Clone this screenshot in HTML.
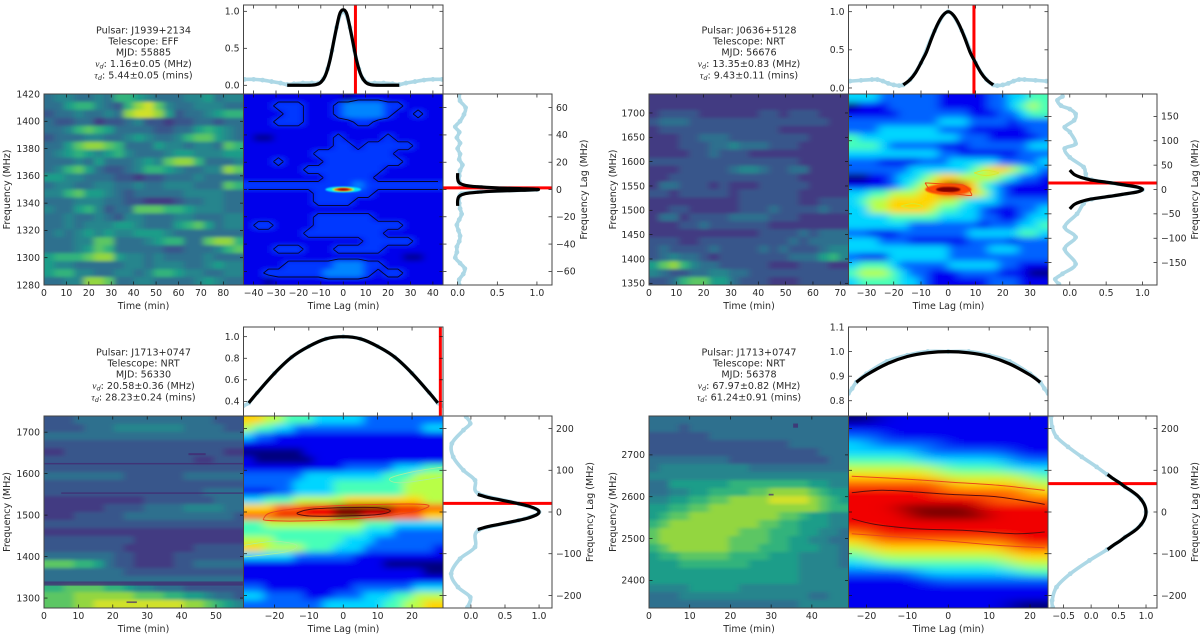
<!DOCTYPE html>
<html>
<head>
<meta charset="utf-8">
<title>Pulsar dynamic spectra and autocovariance</title>
<style>
html,body{margin:0;padding:0;background:#fff;}
svg{display:block;}
text{font-family:"DejaVu Sans","Liberation Sans",sans-serif;font-size:9.3px;fill:#2a2a2a;}
.info{text-anchor:middle;font-size:9.6px;}
.title{text-anchor:middle;font-size:9.5px;}
</style>
</head>
<body>
<svg id="chart" width="1200" height="637" viewBox="0 0 1200 637" xmlns="http://www.w3.org/2000/svg">
  <g id="panel-a">
    <text class="info" x="143.5" y="33.5">Pulsar: J1939+2134</text>
    <text class="info" x="143.5" y="44.5">Telescope: EFF</text>
    <text class="info" x="143.5" y="55.5">MJD: 55885</text>
    <text class="info" x="143.5" y="67"><tspan font-style="italic" font-family="Liberation Serif">ν</tspan><tspan font-size="6.5" dy="1.5" font-style="italic">d</tspan><tspan dy="-1.5">: 1.16±0.05 (MHz)</tspan></text>
    <text class="info" x="143.5" y="78.5"><tspan font-style="italic" font-family="Liberation Serif">τ</tspan><tspan font-size="6.5" dy="1.5" font-style="italic">d</tspan><tspan dy="-1.5">: 5.44±0.05 (mins)</tspan></text>
    <text class="title" x="143.5" y="309">Time (min)</text>
    <text class="title" x="343.5" y="309">Time Lag (min)</text>
    <text class="title" transform="translate(10,189.5) rotate(-90)">Frequency (MHz)</text>
    <text class="title" transform="translate(587,189.5) rotate(-90)">Frequency Lag (MHz)</text>
  </g>
  <g id="panel-b">
    <text class="info" x="749" y="33.5">Pulsar: J0636+5128</text>
    <text class="info" x="749" y="44.5">Telescope: NRT</text>
    <text class="info" x="749" y="55.5">MJD: 56676</text>
    <text class="info" x="749" y="67"><tspan font-style="italic" font-family="Liberation Serif">ν</tspan><tspan font-size="6.5" dy="1.5" font-style="italic">d</tspan><tspan dy="-1.5">: 13.35±0.83 (MHz)</tspan></text>
    <text class="info" x="749" y="78.5"><tspan font-style="italic" font-family="Liberation Serif">τ</tspan><tspan font-size="6.5" dy="1.5" font-style="italic">d</tspan><tspan dy="-1.5">: 9.43±0.11 (mins)</tspan></text>
    <text class="title" x="749" y="309">Time (min)</text>
    <text class="title" x="948.5" y="309">Time Lag (min)</text>
    <text class="title" transform="translate(616,189.5) rotate(-90)">Frequency (MHz)</text>
    <text class="title" transform="translate(1198,189.5) rotate(-90)">Frequency Lag (MHz)</text>
  </g>
  <g id="panel-c">
    <text class="info" x="143.5" y="355.5">Pulsar: J1713+0747</text>
    <text class="info" x="143.5" y="366.5">Telescope: NRT</text>
    <text class="info" x="143.5" y="377.5">MJD: 56330</text>
    <text class="info" x="143.5" y="389"><tspan font-style="italic" font-family="Liberation Serif">ν</tspan><tspan font-size="6.5" dy="1.5" font-style="italic">d</tspan><tspan dy="-1.5">: 20.58±0.36 (MHz)</tspan></text>
    <text class="info" x="143.5" y="400.5"><tspan font-style="italic" font-family="Liberation Serif">τ</tspan><tspan font-size="6.5" dy="1.5" font-style="italic">d</tspan><tspan dy="-1.5">: 28.23±0.24 (mins)</tspan></text>
    <text class="title" x="143.5" y="632">Time (min)</text>
    <text class="title" x="343.5" y="632">Time Lag (min)</text>
    <text class="title" transform="translate(10,512) rotate(-90)">Frequency (MHz)</text>
    <text class="title" transform="translate(593,512) rotate(-90)">Frequency Lag (MHz)</text>
  </g>
  <g id="panel-d">
    <text class="info" x="749" y="355.5">Pulsar: J1713+0747</text>
    <text class="info" x="749" y="366.5">Telescope: NRT</text>
    <text class="info" x="749" y="377.5">MJD: 56378</text>
    <text class="info" x="749" y="389"><tspan font-style="italic" font-family="Liberation Serif">ν</tspan><tspan font-size="6.5" dy="1.5" font-style="italic">d</tspan><tspan dy="-1.5">: 67.97±0.82 (MHz)</tspan></text>
    <text class="info" x="749" y="400.5"><tspan font-style="italic" font-family="Liberation Serif">τ</tspan><tspan font-size="6.5" dy="1.5" font-style="italic">d</tspan><tspan dy="-1.5">: 61.24±0.91 (mins)</tspan></text>
    <text class="title" x="749" y="632">Time (min)</text>
    <text class="title" x="948.5" y="632">Time Lag (min)</text>
    <text class="title" transform="translate(616,512) rotate(-90)">Frequency (MHz)</text>
    <text class="title" transform="translate(1198,512) rotate(-90)">Frequency Lag (MHz)</text>
  </g>
</svg>
<script>
/* ---------- Panel A: J1939+2134 ---------- */
const dynA = ["34433436654333445344","33566432689743344433","23343343899852334566","32233122342212233233","33467653333223356543","23334433454334677543","33578876333544344376","34565456433345544455","33343533345478863334","34675322346654334487","55443332212233343333","34433443343344433376","44675543233333444433","33344433221112334433","43356423377766544433","33433432443334433344","33434445543335675344","34345454455543333333","33344773334566337886","33345763333322333467","56667885443433334333","54433333443444334544","56644334434665443344","33448873344333345433"];
const acfA = ["11111111110111111111","11122211123333221111","11112211123333211211","11122211111221111111","11111111111111111111","10011111121111211111","11111111122122222111","11111112222222211111","11121111222222221111","11111122222222111111","11111111222221111111","22222222222322222222","11111112222221111111","11111112222111111111","11111111111111111111","11111112222221111111","12211112222222221111","11111122222222111111","11111111111122222111","11122211122222111111","11111111111111110011","11112222233322111111","11222222333321221111","11011111111111111111"];
const timeLimA = [0, 89];
const freqLimA = [1280, 1420];
const lagLimA = [-44.5, 44.5];
const lagFreqLimA = [-70, 70];
const topLimA = [-0.118, 1.085];
const sideLimA = [-0.185, 1.19];
const timeTicksA = [0,10,20,30,40,50,60,70,80];
const freqTicksA = [1280,1300,1320,1340,1360,1380,1400,1420];
const lagTicksA = [-40,-30,-20,-10,0,10,20,30,40];
const lagFreqTicksA = [-60,-40,-20,0,20,40,60];
const topTicksA = [0,0.5,1];
const sideTicksA = [0,0.5,1];
const topLagA = [-44,-40,-36,-32,-28,-25,-22,-18,-14,-11,-9,-7,-5,-3,-1,0,1,3,5,7,9,11,14,18,22,25,28,32,36,40,44];
const topValA = [.08,.08,.07,.05,.03,.01,.02,.03,.03,.03,.08,.22,.47,.78,.98,1,.98,.78,.47,.22,.08,.03,.03,.03,.02,.01,.03,.05,.07,.08,.08];
const topFitLagA = [-25,-20,-15,-12,-10,-8,-6,-4,-2,-1,0,1,2,4,6,8,10,12,15,20,25];
const topFitA = [0,0,0,.01,.04,.13,.33,.63,.92,1,1.02,1,.92,.63,.33,.13,.04,.01,0,0,0];
const sideFreqA = [70,65,60,55,50,46,42,38,34,30,26,22,18,14,10,6,3,1.5,0,-1.5,-3,-6,-10,-14,-18,-22,-26,-30,-34,-38,-42,-46,-50,-54,-58,-62,-66,-70];
const sideValA = [.02,.03,.1,.08,.03,-.03,.02,-.01,.03,0,.03,.02,.06,.03,.02,.02,.05,.3,1,.3,.05,.02,.02,.03,.05,.02,-.01,.01,.03,.02,-.01,-.01,-.03,.03,.09,.07,.02,.02];
const sideFitFreqA = [12,8,5,3,2,1.16,.6,0,-.6,-1.16,-2,-3,-5,-8,-12];
const sideFitA = [0,0,.02,.1,.25,.5,.8,1.02,.8,.5,.25,.1,.02,0,0];
const markerLagA = 5.44;
const markerFreqA = 1.16;
const ringLagA = [8,5,4,2.6];
const ringFreqA = [2.2,1.5,1.1,.7];
const ringLevelA = [.35,.55,.8,.97];

/* ---------- Panel B: J0636+5128 ---------- */
const dynB = ["11111111111111111111","11111111111111111111","12222111111221222111","23332222222222222211","12222222222221111111","11122333222222221111","11122233433322211111","11112232221111111111","22222222222222211111","11122222344322331111","11222222222222211111","13322212111222221111","22122222122222211111","11111111122222211222","11221111122232222322","13312222333322211111","11122322222211111111","11111111111222232333","22211222222222323333","23222232222323222344","23433212222222333564","57864332222211122211","43223344332222222222","22367755322211122222"];
const acfB = ["33322222211111223344","01112222211111223454","11111222222211122344","22222222233322221222","22233333322211111122","43333333333222111112","44432222211122222233","33333333322111111222","22211112223333322223","22222233333345665432","00112334566555543221","11112345689864321111","33445556677765321111","34556666655433322222","33556666544332111223","33334444433332211233","33333322222221222334","22111222222233333443","33322211111122221222","33333333332222333222","21113333332222222222","34443222223333322111","45554322111222211100","34444332111111222111"];
const timeLimB = [0, 73];
const freqLimB = [1346.5, 1739];
const lagLimB = [-36.6, 36.6];
const lagFreqLimB = [-196, 196];
const topLimB = [-0.079, 1.088];
const sideLimB = [-0.3, 1.2];
const timeTicksB = [0,10,20,30,40,50,60,70];
const freqTicksB = [1350,1400,1450,1500,1550,1600,1650,1700];
const lagTicksB = [-30,-20,-10,0,10,20,30];
const lagFreqTicksB = [-150,-100,-50,0,50,100,150];
const topTicksB = [0,0.5,1];
const sideTicksB = [0,0.5,1];
const topLagB = [-36,-32,-28,-26,-24,-22,-20,-18,-16.5,-14,-10,-5,0,5,10,14,16.5,18,20,22,24,26,28,32,36];
const topValB = [.09,.1,.11,.11,.09,.06,.04,.03,.04,.11,.33,.75,1,.75,.33,.11,.04,.03,.04,.06,.09,.11,.11,.1,.09];
const topFitLagB = [-16.5,-14,-12,-10,-9.43,-8,-6,-4,-2,0,2,4,6,8,9.43,10,12,14,16.5];
const topFitB = [.04,.11,.2,.33,.37,.47,.66,.83,.95,1,.95,.83,.66,.47,.37,.33,.2,.11,.04];
const sideFreqB = [191,183,172,165,155,142,128,118,94,84,66,46,32,20,0,-20,-29,-50,-77,-98,-122,-153,-173,-184,-194];
const sideValB = [-.1,-.17,-.12,0,.08,.06,-.07,0,.08,-.07,0,.19,.22,.3,1,.3,.19,.1,-.07,.08,-.07,.08,-.1,-.2,-.15];
const sideFitFreqB = [40,35,30,25,20,15,13,10,5,0,-5,-10,-13,-15,-20,-25,-30,-35,-40];
const sideFitB = [0,.03,.07,.15,.28,.5,.6,.72,.93,1,.93,.72,.6,.5,.28,.15,.07,.03,0];
const markerLagB = 9.43;
const markerFreqB = 13.35;
const ringLagB = [8.5,4.5];
const ringFreqB = [11,5.5];
const ringLevelB = [.8,1];
const contourOuterLagB = [-8.5,-2.4,5.5,8.5,7.3,0,-6,-8.5];
const contourOuterFreqB = [13.6,11.6,8.9,-8.9,-12.3,-6.8,-3.4,13.6];
const contourLowerLagB = [-17.4,-15,-13.4,-11,-9.4,-11,-13.4,-15,-17.4];
const contourLowerFreqB = [-34,-30.5,-29,-30.5,-34,-37.5,-39,-37.5,-34];
const contourUpperLagB = [9.5,12,14,16,18.5,16,14,12,9.5];
const contourUpperFreqB = [34,38,39.5,38,34,30,28.5,30,34];

/* ---------- Panel C: J1713+0747 MJD 56330 ---------- */
const dynC = ["22233333333333333222","22223334444444333322","33333333333333333333","22222222222222222222","11222222222222222211","22222222222222211222","22222222222222222222","33333333222222333333","22222222222222222222","22222222222222223333","11111111112222222333","11111122223333444433","11122222333333333332","22222222222222222222","11111111111111111111","22222222211111111111","22222222111111122222","33333332211112222222","77766532211112233333","33333333222222222222","33333333333333333333","66777766544333222222","77788888877766554332","77788999999999887654"];
const acfC = ["66554443333322222222","54433222222222222233","32211111111111111111","11111111111111111111","00000011111111111111","10000001111111111111","11111111112222233344","22222233333333444555","22222333344444445555","11122333344444445555","33444555556666666655","66677788899999988877","77788888899988877766","44555555555544433333","44444444444433322222","55544444443332222222","66555544433322222221","33333222222111111111","11111111111111000000","11111111111111111100","11111111111111111111","22111111111222222333","33222211122233344555","22222222333333445566"];
const timeLimC = [0, 58];
const freqLimC = [1276, 1739];
const lagLimC = [-29, 29];
const lagFreqLimC = [-230, 230];
const topLimC = [0.264, 1.09];
const sideLimC = [-0.41, 1.19];
const timeTicksC = [0,10,20,30,40,50];
const freqTicksC = [1300,1400,1500,1600,1700];
const lagTicksC = [-20,-10,0,10,20];
const lagFreqTicksC = [-200,-100,0,100,200];
const topTicksC = [0.4,0.6,0.8,1];
const sideTicksC = [0,0.5,1];
const topLagC = [-29,-27.5,-25,-20,-15,-10,-5,0,5,10,15,20,25,27.5,29];
const topValC = [.36,.385,.48,.66,.81,.91,.98,1,.98,.91,.81,.66,.48,.385,.36];
const topFitLagC = [-27.5,-25,-20,-15,-10,-5,0,5,10,15,20,25,27.5];
const topFitC = [.385,.48,.66,.81,.91,.98,1,.98,.91,.81,.66,.48,.385];
const sideFreqC = [228,212,196,164,132,100,76,44,20,0,-20,-44,-84,-112,-148,-180,-204,-228];
const sideValC = [-.07,-.01,-.11,-.28,-.26,-.11,.06,.11,.7,1,.7,.11,.06,-.16,-.29,-.19,-.01,-.05];
const sideFitFreqC = [42,35,30,25,20,15,10,5,0,-5,-10,-15,-20,-25,-30,-35,-42];
const sideFitC = [.1,.25,.4,.55,.7,.83,.92,.98,1,.98,.92,.83,.7,.55,.4,.25,.1];
const markerLagC = 28.23;
const markerFreqC = 20.58;
const contourOuterLagC = [-23.2,-21.3,-13.5,0,23.2,22.2,13.5,0,-13.5,-22.2,-23.2];
const contourOuterFreqC = [-16,-2.4,8,16,18.4,4,-8,-17.6,-21.6,-20,-16];
const contourInnerLagC = [-13.5,-9.7,0,9.7,13.7,9.7,0,-9.7,-13,-13.5];
const contourInnerFreqC = [-2.4,6.4,10.4,10.4,2.4,-6.4,-9.6,-9.6,-5.6,-2.4];
const contourRightLagC = [29,20,13.5,17,29];
const contourRightFreqC = [108,96,80,70,84];
const contourLeftLagC = [-29,-20,-13.5,-17,-29];
const contourLeftFreqC = [-80,-70,-80,-96,-108];
const rfiFreqC = [1624,1553,1335,1647,1290];
const rfiStartC = [0,5,0,42,24];
const rfiEndC = [58,58,58,47,27];
const rfiHeightC = [3.5,3.5,10,5,4];

/* ---------- Panel D: J1713+0747 MJD 56378 ---------- */
const dynD = ["33333333333333333333","33323333333333333333","22222233333333333333","22222222222222333333","22222222222222222333","33333333222222222233","34444444443333333333","44444444444444444444","33555555666666665544","33445566667788887655","44556677888899998765","55667788888888888766","56778888888887765544","67888888888776655544","78888888877766655443","78888888777766554433","67888888777666555443","56677777666655544443","55566666665555544443","55555555555555544444","55555555555555544444","44445555544444444444","33344444444444443344","33333333333333344444"];
const acfD = ["00011111111111111111","11111111111111111111","22211111111111111111","33222222211111111111","33333332222222221111","44444443333333332222","55555555544444443333","66666666655555555544","77777777776666666655","88888888877777777766","88888888888888777777","88888999999998888888","88888899999999888888","88888888888888888888","77888888888888888888","66777777777777778888","55666666666666667777","44555555555555556666","33344444444444445555","22222223333333333444","11111111222222222222","11111111111111111111","11111111111111111111","11111111111111110000"];
const timeLimD = [0, 49];
const freqLimD = [2334, 2793];
const lagLimD = [-24.4, 24.4];
const lagFreqLimD = [-230, 230];
const topLimD = [0.738, 1.1];
const sideLimD = [-0.785, 1.2];
const timeTicksD = [0,10,20,30,40];
const freqTicksD = [2400,2500,2600,2700];
const lagTicksD = [-20,-10,0,10,20];
const lagFreqTicksD = [-200,-100,0,100,200];
const topTicksD = [0.8,0.9,1,1.1];
const sideTicksD = [-0.5,0,0.5,1];
const topLagD = [-24.4,-23.5,-22.5,-20,-15,-10,-5,0,5,10,15,20,22.5,23.5,24.4];
const topValD = [.83,.85,.875,.91,.96,.985,1,1,1,.985,.96,.91,.875,.85,.83];
const topFitLagD = [-22.5,-20,-15,-10,-5,0,5,10,15,20,22.5];
const topFitD = [.875,.905,.95,.98,.995,1,.995,.98,.95,.905,.875];
const sideFreqD = [228,204,180,156,132,108,90,60,30,0,-30,-60,-90,-116,-148,-180,-212,-228];
const sideValD = [-.73,-.71,-.63,-.42,-.17,.1,.29,.62,.91,1,.91,.62,.29,-.03,-.38,-.63,-.71,-.7];
const sideFitFreqD = [90,80,70,60,50,40,30,20,10,0,-10,-20,-30,-40,-50,-60,-70,-80,-90];
const sideFitD = [.3,.4,.52,.62,.74,.84,.91,.96,.99,1,.99,.96,.91,.84,.74,.62,.52,.4,.3];
const markerLagD = 61.24;
const markerFreqD = 67.97;
const contourOrangeTopLagD = [-23.6,-12.2,0,12.2,23.6];
const contourOrangeTopFreqD = [85.6,80,72,64,52];
const contourDarkTopLagD = [-23.6,-16.3,-8.1,0,12.2,23.6];
const contourDarkTopFreqD = [46.4,52,48,42.4,36,18.4];
const contourDarkBottomLagD = [-23.6,-17.9,-8.1,4,16.3,23.6];
const contourDarkBottomFreqD = [-16,-29.6,-40,-44,-52,-48];
const contourOrangeBottomLagD = [-23.6,-12.2,0,12.2,23.6];
const contourOrangeBottomFreqD = [-52,-60,-69.6,-80,-85.6];
const rfiFreqD = [2770,2605];
const rfiStartD = [35.4,29.4];
const rfiEndD = [36.6,30.6];
const rfiHeightD = [10,4];

const NS = 'http://www.w3.org/2000/svg';
const svg = document.getElementById('chart');
let clipCount = 0;

const defs = document.createElementNS(NS, 'defs');
svg.appendChild(defs);
function addBlur(id, sd) {
  const f = document.createElementNS(NS, 'filter');
  f.setAttribute('id', id);
  f.setAttribute('filterUnits', 'userSpaceOnUse');
  f.setAttribute('x', '-50'); f.setAttribute('y', '-50');
  f.setAttribute('width', '1300'); f.setAttribute('height', '740');
  const b = document.createElementNS(NS, 'feGaussianBlur');
  b.setAttribute('stdDeviation', sd);
  f.appendChild(b);
  defs.appendChild(f);
}
addBlur('blur-dyn', '3.2 1.6');
addBlur('blur-acf-fine', '4 2.5');
addBlur('blur-acf', '5 3.2');
addBlur('blur-acf-wide', '13 3.8');
addBlur('blur-ring', '0.7');

function make(tag, parent, attrs) {
  const el = document.createElementNS(NS, tag);
  for (const k in attrs) el.setAttribute(k, attrs[k]);
  parent.appendChild(el);
  return el;
}
function linear(dom, r0, r1) {
  return v => r0 + (v - dom[0]) / (dom[1] - dom[0]) * (r1 - r0);
}
function mix(stops, t) {
  t = Math.max(0, Math.min(1, t));
  const p = t * (stops.length - 1), i = Math.min(stops.length - 2, Math.floor(p)), f = p - i;
  const a = stops[i], b = stops[i + 1];
  return 'rgb(' + [0, 1, 2].map(k => Math.round(a[k] + (b[k] - a[k]) * f)).join(',') + ')';
}
const viridisStops = [[68,1,84],[72,40,120],[62,73,137],[49,104,142],[38,130,142],[31,158,137],[53,183,121],[110,206,88],[181,222,43],[253,231,37]];
const jetStops = [[0,0,128],[0,0,255],[0,128,255],[0,255,255],[128,255,128],[255,255,0],[255,128,0],[255,0,0],[128,0,0]];
const viridis = v => mix(viridisStops, 0.08 + v / 9 * 0.85);
const jet = t => mix(jetStops, t);

function fmt(v, digits) {
  return (digits ? v.toFixed(digits) : String(v)).replace('-', '\u2212');
}
function clipFor(x0, y0, x1, y1) {
  const id = 'clip-' + (++clipCount);
  const c = make('clipPath', defs, {id: id});
  make('rect', c, {x: x0, y: y0, width: x1 - x0, height: y1 - y0});
  return id;
}
function heatmap(g, rows, colorFn, box, blurId) {
  const outer = make('g', g, {'clip-path': 'url(#' + clipFor(box.x0, box.y0, box.x1, box.y1) + ')'});
  
  
  const inner = make('g', outer, {filter: 'url(#' + blurId + ')'});
  const nr = rows.length, nc = rows[0].length;
  const cw = (box.x1 - box.x0) / nc, ch = (box.y1 - box.y0) / nr;
  for (let r = 0; r < nr; r++) {
    for (let c = 0; c < nc; c++) {
      const xa = box.x0 + c * cw - (c === 0 ? 40 : 0);
      const xb = box.x0 + (c + 1) * cw + (c === nc - 1 ? 40 : 0.5);
      const ya = box.y0 + r * ch - (r === 0 ? 30 : 0);
      const yb = box.y0 + (r + 1) * ch + (r === nr - 1 ? 30 : 0.5);
      const rect = make('rect', inner, {x: xa, y: ya, width: xb - xa, height: yb - ya, fill: colorFn(+rows[r][c])});
      
      
    }
  }
  return outer;
}
/* smooth path through the data points (Catmull-Rom) */
function curve(parent, xs, ys, sx, sy, color, width) {
  const p = xs.map((x, i) => [sx(x), sy(ys[i])]);
  let d = 'M' + p[0][0].toFixed(2) + ' ' + p[0][1].toFixed(2);
  for (let i = 0; i < p.length - 1; i++) {
    const a = p[Math.max(0, i - 1)], b = p[i], c = p[i + 1], e = p[Math.min(p.length - 1, i + 2)];
    const c1x = b[0] + (c[0] - a[0]) / 6, c1y = b[1] + (c[1] - a[1]) / 6;
    const c2x = c[0] - (e[0] - b[0]) / 6, c2y = c[1] - (e[1] - b[1]) / 6;
    d += 'C' + c1x.toFixed(2) + ' ' + c1y.toFixed(2) + ' ' + c2x.toFixed(2) + ' ' + c2y.toFixed(2) + ' ' + c[0].toFixed(2) + ' ' + c[1].toFixed(2);
  }
  return make('path', parent, {d: d, fill: 'none', stroke: color, 'stroke-width': width, 'stroke-linejoin': 'round'});
}
function dots(parent, xs, ys, sx, sy) {
  xs.forEach((x, i) => {
    const c = make('circle', parent, {cx: sx(x), cy: sy(ys[i]), r: 2.4, fill: '#add8e6'});
    
    
  });
}
function xTicks(g, vals, sx, y0, y1, label) {
  vals.forEach(v => {
    const a = make('line', g, {x1: sx(v), x2: sx(v), y1: y1, y2: y1 - 3.5, stroke: '#111', 'stroke-width': 0.7});
    
    
    const b = make('line', g, {x1: sx(v), x2: sx(v), y1: y0, y2: y0 + 3.5, stroke: '#111', 'stroke-width': 0.7});
    
    
    if (label) {
      const t = make('text', g, {x: sx(v), y: y1 + 11, 'text-anchor': 'middle'});
      t.textContent = fmt(v, label === 1 ? 1 : 0);
      
      
    }
  });
}
function yTicks(g, vals, sy, x0, x1, side, digits) {
  vals.forEach(v => {
    const a = make('line', g, {x1: x0, x2: x0 + 3.5, y1: sy(v), y2: sy(v), stroke: '#111', 'stroke-width': 0.7});
    
    
    const b = make('line', g, {x1: x1, x2: x1 - 3.5, y1: sy(v), y2: sy(v), stroke: '#111', 'stroke-width': 0.7});
    
    
    if (side === 'left') {
      const t = make('text', g, {x: x0 - 4, y: sy(v) + 3.3, 'text-anchor': 'end'});
      t.textContent = fmt(v, digits);
      
      
    }
    if (side === 'right') {
      const t = make('text', g, {x: x1 + 4, y: sy(v) + 3.3, 'text-anchor': 'start'});
      t.textContent = fmt(v, digits);
      
      
    }
  });
}
function frame(g, x0, y0, x1, y1) {
  const r = make('rect', g, {x: x0, y: y0, width: x1 - x0, height: y1 - y0, fill: 'none', stroke: '#444', 'stroke-width': 1});
  
  
}
/* marching squares across the ACF grid for the wiggly low-level contour */
function gridContour(g, rows, level, box, color) {
  const nr = rows.length, nc = rows[0].length;
  const cw = (box.x1 - box.x0) / nc, ch = (box.y1 - box.y0) / nr;
  const px = c => box.x0 + (c + 0.5) * cw, py = r => box.y0 + (r + 0.5) * ch;
  let d = '';
  for (let r = 0; r < nr - 1; r++) for (let c = 0; c < nc - 1; c++) {
    const a = +rows[r][c], b = +rows[r][c + 1], e = +rows[r + 1][c + 1], f = +rows[r + 1][c];
    const cross = [];
    if ((a < level) !== (b < level)) cross.push([px(c + (level - a) / (b - a)), py(r)]);
    if ((b < level) !== (e < level)) cross.push([px(c + 1), py(r + (level - b) / (e - b))]);
    if ((f < level) !== (e < level)) cross.push([px(c + (level - f) / (e - f)), py(r + 1)]);
    if ((a < level) !== (f < level)) cross.push([px(c), py(r + (level - a) / (f - a))]);
    for (let i = 0; i + 1 < cross.length; i += 2) {
      d += 'M' + cross[i][0].toFixed(1) + ' ' + cross[i][1].toFixed(1) + 'L' + cross[i + 1][0].toFixed(1) + ' ' + cross[i + 1][1].toFixed(1);
    }
  }
  const p = make('path', g, {d: d, fill: 'none', stroke: color, 'stroke-width': 0.9, 'clip-path': 'url(#' + clipFor(box.x0, box.y0, box.x1, box.y1) + ')'});
  
  
}

function drawPanel(cfg) {
  const g = document.getElementById(cfg.id);
  const dx = cfg.dx, yTop0 = cfg.yTop0, yTop1 = cfg.yTop1, yMain1 = cfg.yMain1;
  const dynBox = {x0: 44 + dx, x1: 243.5 + dx, y0: yTop1, y1: yMain1};
  const acfBox = {x0: 243.5 + dx, x1: 443 + dx, y0: yTop1, y1: yMain1};
  const sideX0 = 443 + dx, sideX1 = 552 + dx;

  const sTime = linear(cfg.timeLim, dynBox.x0, dynBox.x1);
  const sFreq = linear(cfg.freqLim, dynBox.y1, dynBox.y0);
  const sLag = linear(cfg.lagLim, acfBox.x0, acfBox.x1);
  const sLagFreq = linear(cfg.lagFreqLim, acfBox.y1, acfBox.y0);
  const sTop = linear(cfg.topLim, yTop1, yTop0);
  const sSide = linear(cfg.sideLim, sideX0, sideX1);

  /* dynamic spectrum */
  const dynG = heatmap(g, cfg.dyn, viridis, dynBox, 'blur-dyn');
  (cfg.rfiFreq || []).forEach((f, i) => {
    const r = make('rect', dynG, {
      x: sTime(cfg.rfiStart[i]), width: sTime(cfg.rfiEnd[i]) - sTime(cfg.rfiStart[i]),
      y: sFreq(f + cfg.rfiHeight[i] / 2), height: sFreq(f - cfg.rfiHeight[i] / 2) - sFreq(f + cfg.rfiHeight[i] / 2),
      fill: '#45256f', opacity: 0.7});
    
    
  });

  /* autocovariance */
  const acfG = heatmap(g, cfg.acf, cfg.acfColor, acfBox, cfg.acfBlur);
  (cfg.ringLag || []).forEach((rl, i) => {
    const e = make('ellipse', acfG, {
      cx: sLag(0), cy: sLagFreq(0),
      rx: sLag(rl) - sLag(0), ry: sLagFreq(0) - sLagFreq(cfg.ringFreq[i]),
      fill: jet(cfg.ringLevel[i]), filter: 'url(#blur-ring)'});
    
    
  });
  if (cfg.gridLevel) gridContour(g, cfg.acf, cfg.gridLevel, acfBox, '#05052a');
  (cfg.contours || []).forEach(c => {
    const pl = curve(acfG, c.lag, c.freq, sLag, sLagFreq, c.color, c.width || 1);
    
    
  });

  /* top slice */
  const topG = make('g', g, {'clip-path': 'url(#' + clipFor(acfBox.x0, yTop0, acfBox.x1, yTop1) + ')'});
  
  
  const tl = curve(topG, cfg.topLag, cfg.topVal, sLag, sTop, '#add8e6', 3.6);
  
  
  dots(topG, cfg.topLag, cfg.topVal, sLag, sTop);
  const tm = make('line', topG, {x1: sLag(cfg.markerLag), x2: sLag(cfg.markerLag), y1: yTop0, y2: yTop1, stroke: '#ff0000', 'stroke-width': 3});
  
  
  const tf = curve(topG, cfg.topFitLag, cfg.topFit, sLag, sTop, '#000', 3.2);
  
  

  /* side slice */
  const sideG = make('g', g, {'clip-path': 'url(#' + clipFor(sideX0, yTop1, sideX1, yMain1) + ')'});
  
  
  const sl = curve(sideG, cfg.sideVal, cfg.sideFreq, sSide, sLagFreq, '#add8e6', 3.6);
  
  
  dots(sideG, cfg.sideVal, cfg.sideFreq, sSide, sLagFreq);
  const sm = make('line', sideG, {x1: sideX0, x2: sideX1, y1: sLagFreq(cfg.markerFreq), y2: sLagFreq(cfg.markerFreq), stroke: '#ff0000', 'stroke-width': 3});
  
  
  const sf = curve(sideG, cfg.sideFit, cfg.sideFitFreq, sSide, sLagFreq, '#000', 3.2);
  
  

  /* axes */
  xTicks(g, cfg.timeTicks, sTime, dynBox.y0, dynBox.y1, 2);
  yTicks(g, cfg.freqTicks, sFreq, dynBox.x0, dynBox.x1, 'left', 0);
  xTicks(g, cfg.lagTicks, sLag, dynBox.y0, dynBox.y1, 2);
  yTicks(g, cfg.lagFreqTicks, sLagFreq, acfBox.x0, acfBox.x1, 'none', 0);
  xTicks(g, cfg.lagTicks, sLag, yTop0, yTop1, 0);
  yTicks(g, cfg.topTicks, sTop, acfBox.x0, acfBox.x1, 'left', 1);
  xTicks(g, cfg.sideTicks, sSide, yTop1, yMain1, 1);
  yTicks(g, cfg.lagFreqTicks, sLagFreq, sideX0, sideX1, 'right', 0);

  frame(g, dynBox.x0, yTop1, dynBox.x1, yMain1);
  frame(g, acfBox.x0, yTop1, acfBox.x1, yMain1);
  frame(g, acfBox.x0, yTop0, acfBox.x1, yTop1);
  frame(g, sideX0, yTop1, sideX1, yMain1);
}

const jetDigit = v => jet(v / 9);
const jetFaint = v => jet(0.03 + v * 0.075);

drawPanel({id:'panel-a', dx:0, yTop0:5, yTop1:94, yMain1:285,
  dyn:dynA, acf:acfA, acfColor:jetFaint, acfBlur:'blur-acf-fine', timeLim:timeLimA, freqLim:freqLimA, lagLim:lagLimA, lagFreqLim:lagFreqLimA, topLim:topLimA, sideLim:sideLimA,
  timeTicks:timeTicksA, freqTicks:freqTicksA, lagTicks:lagTicksA, lagFreqTicks:lagFreqTicksA, topTicks:topTicksA, sideTicks:sideTicksA,
  topLag:topLagA, topVal:topValA, topFitLag:topFitLagA, topFit:topFitA,
  sideFreq:sideFreqA, sideVal:sideValA, sideFitFreq:sideFitFreqA, sideFit:sideFitA,
  markerLag:markerLagA, markerFreq:markerFreqA,
  ringLag:ringLagA, ringFreq:ringFreqA, ringLevel:ringLevelA, gridLevel:1.5});

drawPanel({id:'panel-b', dx:605, yTop0:5, yTop1:94, yMain1:285,
  dyn:dynB, acf:acfB, acfColor:jetDigit, acfBlur:'blur-acf', timeLim:timeLimB, freqLim:freqLimB, lagLim:lagLimB, lagFreqLim:lagFreqLimB, topLim:topLimB, sideLim:sideLimB,
  timeTicks:timeTicksB, freqTicks:freqTicksB, lagTicks:lagTicksB, lagFreqTicks:lagFreqTicksB, topTicks:topTicksB, sideTicks:sideTicksB,
  topLag:topLagB, topVal:topValB, topFitLag:topFitLagB, topFit:topFitB,
  sideFreq:sideFreqB, sideVal:sideValB, sideFitFreq:sideFitFreqB, sideFit:sideFitB,
  markerLag:markerLagB, markerFreq:markerFreqB,
  ringLag:ringLagB, ringFreq:ringFreqB, ringLevel:ringLevelB,
  contours:[
    {lag:contourOuterLagB, freq:contourOuterFreqB, color:'#ee4a10'},
    {lag:contourLowerLagB, freq:contourLowerFreqB, color:'#d8e830'},
    {lag:contourUpperLagB, freq:contourUpperFreqB, color:'#d8e830'}
  ]});

drawPanel({id:'panel-c', dx:0, yTop0:327, yTop1:416, yMain1:608,
  dyn:dynC, acf:acfC, acfColor:jetDigit, acfBlur:'blur-acf', timeLim:timeLimC, freqLim:freqLimC, lagLim:lagLimC, lagFreqLim:lagFreqLimC, topLim:topLimC, sideLim:sideLimC,
  timeTicks:timeTicksC, freqTicks:freqTicksC, lagTicks:lagTicksC, lagFreqTicks:lagFreqTicksC, topTicks:topTicksC, sideTicks:sideTicksC,
  topLag:topLagC, topVal:topValC, topFitLag:topFitLagC, topFit:topFitC,
  sideFreq:sideFreqC, sideVal:sideValC, sideFitFreq:sideFitFreqC, sideFit:sideFitC,
  markerLag:markerLagC, markerFreq:markerFreqC,
  rfiFreq:rfiFreqC, rfiStart:rfiStartC, rfiEnd:rfiEndC, rfiHeight:rfiHeightC,
  contours:[
    {lag:contourOuterLagC, freq:contourOuterFreqC, color:'#e8481a'},
    {lag:contourInnerLagC, freq:contourInnerFreqC, color:'#5a0d0d'},
    {lag:contourRightLagC, freq:contourRightFreqC, color:'#a8f0a0', width:0.8},
    {lag:contourLeftLagC, freq:contourLeftFreqC, color:'#a8f0a0', width:0.8}
  ]});

drawPanel({id:'panel-d', dx:605, yTop0:327, yTop1:416, yMain1:608,
  dyn:dynD, acf:acfD, acfColor:jetDigit, acfBlur:'blur-acf-wide', timeLim:timeLimD, freqLim:freqLimD, lagLim:lagLimD, lagFreqLim:lagFreqLimD, topLim:topLimD, sideLim:sideLimD,
  timeTicks:timeTicksD, freqTicks:freqTicksD, lagTicks:lagTicksD, lagFreqTicks:lagFreqTicksD, topTicks:topTicksD, sideTicks:sideTicksD,
  topLag:topLagD, topVal:topValD, topFitLag:topFitLagD, topFit:topFitD,
  sideFreq:sideFreqD, sideVal:sideValD, sideFitFreq:sideFitFreqD, sideFit:sideFitD,
  markerLag:markerLagD, markerFreq:markerFreqD,
  rfiFreq:rfiFreqD, rfiStart:rfiStartD, rfiEnd:rfiEndD, rfiHeight:rfiHeightD,
  contours:[
    {lag:contourOrangeTopLagD, freq:contourOrangeTopFreqD, color:'#e8481a'},
    {lag:contourDarkTopLagD, freq:contourDarkTopFreqD, color:'#5a0d0d'},
    {lag:contourDarkBottomLagD, freq:contourDarkBottomFreqD, color:'#5a0d0d'},
    {lag:contourOrangeBottomLagD, freq:contourOrangeBottomFreqD, color:'#e8481a'}
  ]});
</script>
</body>
</html>
